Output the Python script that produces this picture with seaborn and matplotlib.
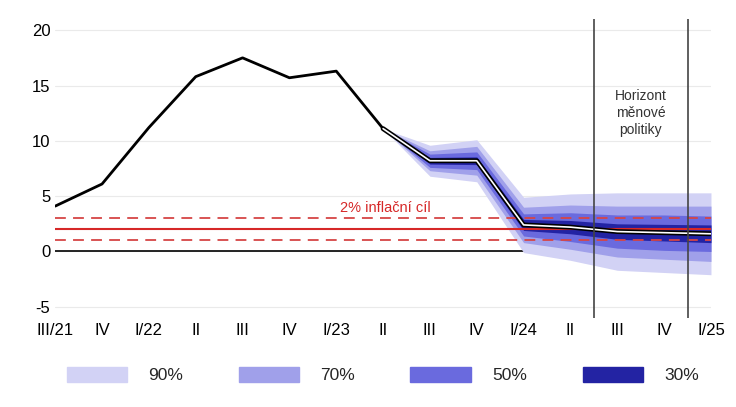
import matplotlib
matplotlib.use("Agg")
import matplotlib.pyplot as plt
import matplotlib.patches as mpatches
import seaborn as sns
import numpy as np
import pandas as pd

sns.set_style("white")
plt.rcParams['font.family'] = ['Liberation Sans', 'DejaVu Sans']
plt.rcParams['axes.unicode_minus'] = False

quarters = ["III/21", "IV", "I/22", "II", "III", "IV", "I/23", "II",
            "III", "IV", "I/24", "II", "III", "IV", "I/25"]
inflation = [4.1, 6.1, 11.2, 15.8, 17.5, 15.7, 16.3, 11.1,
             8.2, 8.2, 2.4, 2.2, 1.8, 1.7, 1.6]
fan_start = 7
# half-widths of the bands from II/23 onwards
hw90 = [0.0, 1.4, 1.9, 2.5, 3.0, 3.5, 3.6, 3.7]
hw70 = [0.0, 0.9, 1.3, 1.6, 2.0, 2.3, 2.4, 2.5]
hw50 = [0.0, 0.6, 0.8, 1.0, 1.3, 1.5, 1.6, 1.6]
hw30 = [0.0, 0.3, 0.35, 0.5, 0.6, 0.7, 0.75, 0.8]
bands = [("90%", hw90, "#d2d2f5"), ("70%", hw70, "#a0a0ea"),
         ("50%", hw50, "#6a6ade"), ("30%", hw30, "#2323a3")]

df = pd.DataFrame({"x": np.arange(len(quarters)), "y": inflation})

fig = plt.figure(figsize=(7.36, 4.07), dpi=100)
ax = fig.add_axes([0.075, 0.219, 0.891, 0.734])

fx = df["x"][fan_start:].to_numpy()
fy = df["y"][fan_start:].to_numpy()
handles = []
for name, hw, col in bands:
    hw = np.array(hw)
    ax.fill_between(fx, fy - hw, fy + hw, color=col, lw=0, zorder=2)
    handles.append(mpatches.Patch(color=col, label=name))

ax.axhline(0, color="black", lw=1.2, zorder=1)
ax.axhline(2, color="#d62828", lw=1.5, zorder=3)
for v in (1, 3):
    ax.axhline(v, color="#d64545", lw=1.3, ls=(0, (6, 4)), zorder=3)
ax.text(7.05, 3.9, "2% inflační cíl", color="#d62828", fontsize=10.5, ha="center", va="center")

sns.lineplot(data=df[:fan_start + 1], x="x", y="y", color="black", lw=2, ax=ax, zorder=5)
ax.plot(fx, fy, color="black", lw=3.5, zorder=5, solid_capstyle="round")
ax.plot(fx, fy, color="white", lw=1.2, zorder=6)

for v in (11.5, 13.5):
    ax.axvline(v, color="#444444", lw=1.2, zorder=7)
ax.text(12.5, 12.5, "Horizont\nměnové\npolitiky", ha="center", va="center",
        fontsize=10, color="#333333", linespacing=1.25)

ax.set_xlim(0, 14)
ax.set_ylim(-6, 21)
ax.set_yticks([-5, 0, 5, 10, 15, 20])
ax.set_xticks(df["x"])
ax.set_xticklabels(quarters)
ax.tick_params(axis="both", labelsize=12, length=0, colors="black")
ax.yaxis.grid(True, color="#eaeaea", lw=0.8)
ax.set_axisbelow(True)
for s in ax.spines.values():
    s.set_visible(False)
ax.set_xlabel("")
ax.set_ylabel("")

fig.legend(handles=handles, loc="lower center", ncol=4, frameon=False,
           fontsize=12.5, handlelength=3.5, handleheight=1.0, columnspacing=3.2,
           handletextpad=1.2, bbox_to_anchor=(0.52, 0.02))

fig.savefig("out.png", dpi=100)
